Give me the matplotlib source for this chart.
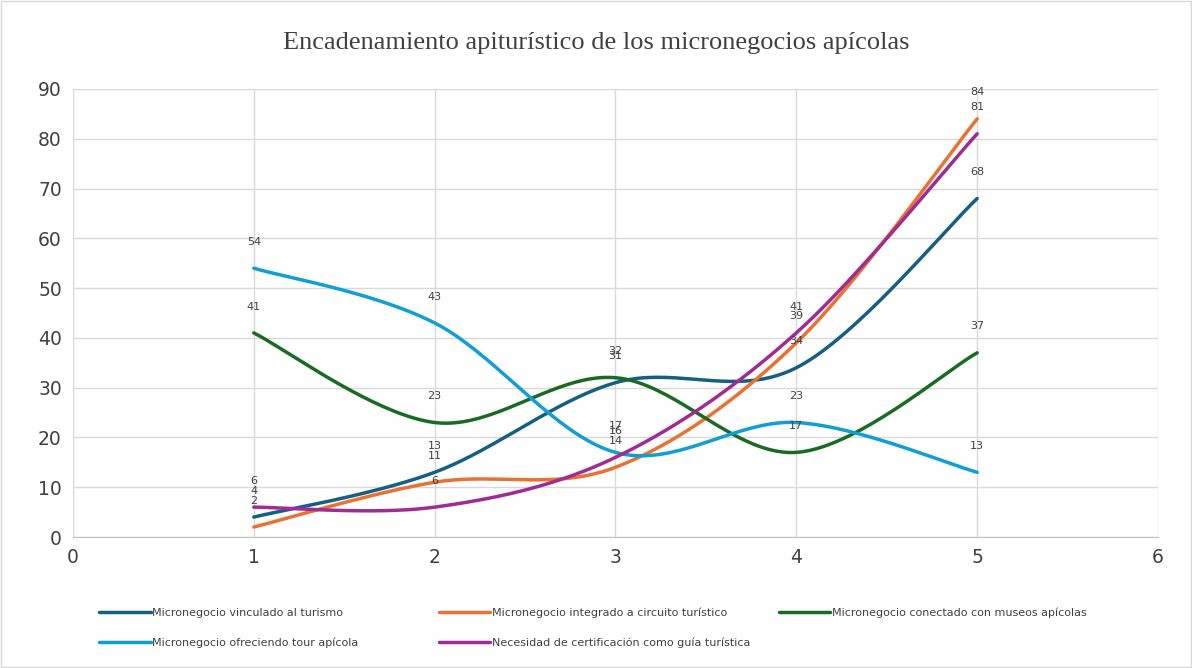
import numpy as np
import matplotlib
matplotlib.use("Agg")
import matplotlib.pyplot as plt

# data
x_vals = [1, 2, 3, 4, 5]
vinculado = [4, 13, 31, 34, 68]
integrado = [2, 11, 14, 39, 84]
museos = [41, 23, 32, 17, 37]
tour = [54, 43, 17, 23, 13]
certificacion = [6, 6, 16, 41, 81]

series_names = ["Micronegocio vinculado al turismo",
                "Micronegocio integrado a circuito turístico",
                "Micronegocio conectado con museos apícolas",
                "Micronegocio ofreciendo tour apícola",
                "Necesidad de certificación como guía turística"]
colors = ["#156082", "#E97132", "#196B24", "#0F9ED5", "#A02B93"]


def smooth(xs, ys, n=40):
    # catmull-rom style bezier, like excel smoothed lines
    xs = np.asarray(xs, float)
    ys = np.asarray(ys, float)
    px, py = [], []
    for i in range(len(xs) - 1):
        x0, y0 = (xs[i - 1], ys[i - 1]) if i > 0 else (xs[i], ys[i])
        x3, y3 = (xs[i + 2], ys[i + 2]) if i + 2 < len(xs) else (xs[i + 1], ys[i + 1])
        x1, y1 = xs[i], ys[i]
        x2, y2 = xs[i + 1], ys[i + 1]
        c1x, c1y = x1 + (x2 - x0) / 6, y1 + (y2 - y0) / 6
        c2x, c2y = x2 - (x3 - x1) / 6, y2 - (y3 - y1) / 6
        t = np.linspace(0, 1, n)
        b0, b1, b2, b3 = (1 - t) ** 3, 3 * t * (1 - t) ** 2, 3 * t ** 2 * (1 - t), t ** 3
        px.extend(b0 * x1 + b1 * c1x + b2 * c2x + b3 * x2)
        py.extend(b0 * y1 + b1 * c1y + b2 * c2y + b3 * y2)
    return px, py


fig = plt.figure(figsize=(11.92, 6.68), dpi=100)
ax = fig.add_axes([0.0612, 0.1961, 0.9103, 0.6707])

all_series = [vinculado, integrado, museos, tour, certificacion]
lines = []
for ys, name, col in zip(all_series, series_names, colors):
    sx, sy = smooth(x_vals, ys)
    ln, = ax.plot(sx, sy, color=col, lw=2.5, label=name, solid_capstyle="round", zorder=3)
    lines.append(ln)
    for xv, yv in zip(x_vals, ys):
        ax.annotate(str(yv), (xv, yv), xytext=(0, 19), textcoords="offset points",
                    ha="center", va="center", fontsize=8, color="#404040", zorder=4)

ax.set_xlim(0, 6)
ax.set_ylim(0, 90)
ax.set_xticks(range(0, 7))
ax.set_yticks(range(0, 91, 10))
ax.grid(True, color="#d9d9d9", lw=1)
ax.set_axisbelow(True)
for s in ["top", "right", "left"]:
    ax.spines[s].set_visible(False)
ax.spines["bottom"].set_color("#bfbfbf")
ax.tick_params(length=0, labelsize=13.5, colors="#404040", pad=8)

fig.text(0.5, 0.935, "Encadenamiento apiturístico de los micronegocios apícolas",
         ha="center", va="center", fontsize=19, family="Liberation Serif", color="#404040")

# legend entries placed like excel does
leg_pos = [(0.075, 0.083), (0.36, 0.083), (0.645, 0.083), (0.075, 0.038), (0.36, 0.038)]
for ln, name, (lx, ly) in zip(lines, series_names, leg_pos):
    fig.legend(handles=[ln], labels=[name], loc="center left", bbox_to_anchor=(lx, ly),
               frameon=False, fontsize=8, handlelength=4.6, handletextpad=0.15,
               labelcolor="#404040")

fig.patches.append(plt.Rectangle((0.001, 0.001), 0.998, 0.998, transform=fig.transFigure,
                                 fill=False, edgecolor="#d9d9d9", lw=1))

fig.savefig("out.png", dpi=100)
